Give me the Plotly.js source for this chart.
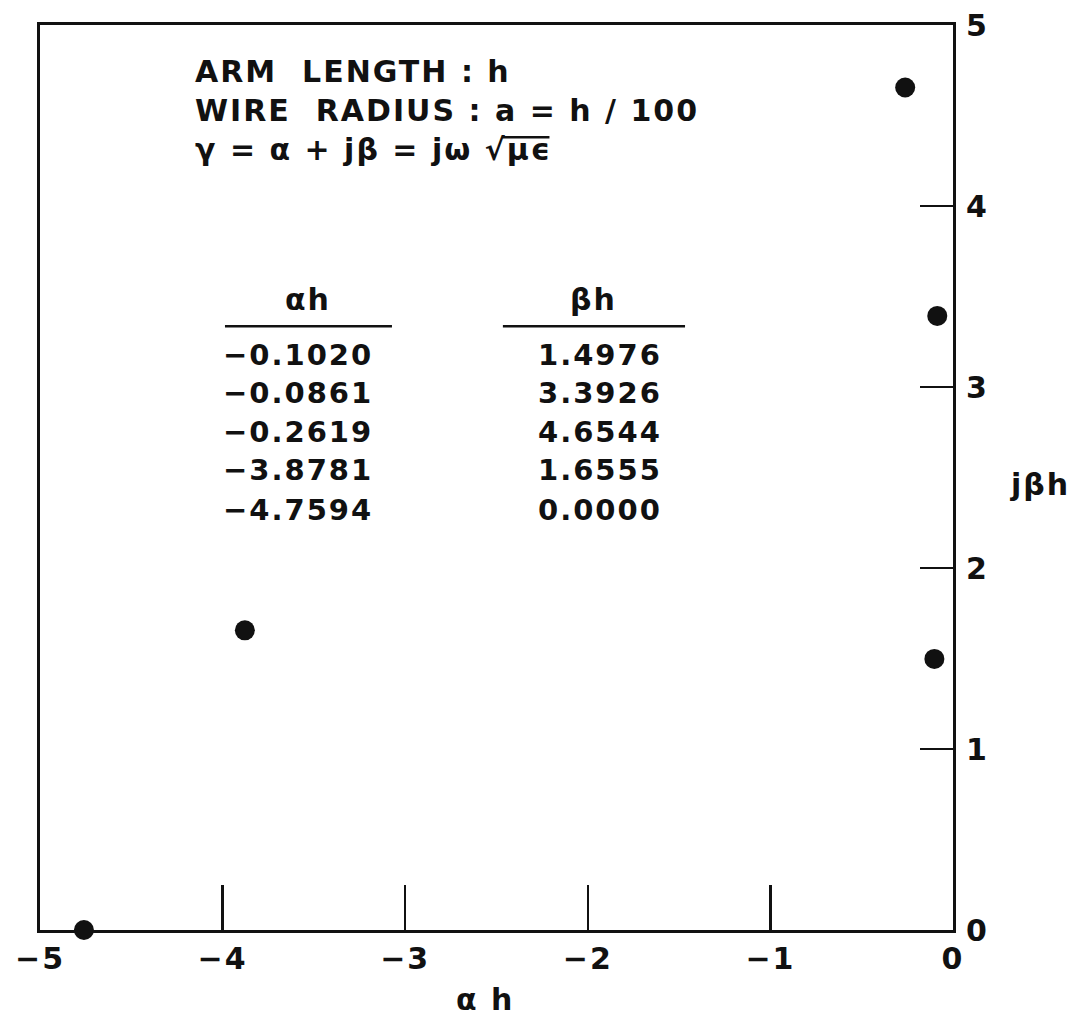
<!DOCTYPE html>
<html>
<head>
<meta charset="utf-8">
<script src="https://cdn.plot.ly/plotly-3.0.1.min.js"></script>
<style>
  html, body { margin: 0; padding: 0; background: #fff; }
  #chart { width: 1081px; height: 1021px; }
  #chart text { letter-spacing: 2px; }
</style>
</head>
<body>
<div id="chart"></div>
<script>
// Roots of the propagation constant, normalised to arm length h
const alphaH = [-0.1020, -0.0861, -0.2619, -3.8781, -4.7594];
const betaH = [1.4976, 3.3926, 4.6544, 1.6555, 0.0000];

const xTicks = [-5, -4, -3, -2, -1, 0];
const yTicks = [0, 1, 2, 3, 4, 5];

const noteLines = [
    'ARM  LENGTH : h',
    'WIRE  RADIUS : a = h / 100',
    'γ = α + jβ = jω √μϵ',
];

const INK = '#111';
const FONT = "'DejaVu Sans', 'Liberation Sans', sans-serif";

const fmt = v => (v < 0 ? '\u2212' : '') + Math.abs(v).toFixed(4);

const trace = {
    x: alphaH,
    y: betaH,
    type: 'scatter',
    mode: 'markers',
    marker: { color: INK, size: 20 },
    cliponaxis: false,
    hoverinfo: 'x+y',
};

const txt = size => ({ size: size, color: INK, weight: 'bold' });

const annotations = [];

// notes at the top of the plot, one block so the lines stay left aligned
annotations.push({
    text: noteLines.join('<br>'), xref: 'paper', yref: 'paper',
    x: 0.168, y: 0.906, xanchor: 'left', yanchor: 'middle', align: 'left',
    showarrow: false, font: txt(30),
});

// table of values
annotations.push({
    text: 'αh', xref: 'paper', yref: 'paper', x: 0.294, y: 0.697,
    xanchor: 'center', yanchor: 'middle', showarrow: false, font: txt(30),
});
annotations.push({
    text: 'βh', xref: 'paper', yref: 'paper', x: 0.606, y: 0.697,
    xanchor: 'center', yanchor: 'middle', showarrow: false, font: txt(30),
});
const rowY = [0.635, 0.593, 0.550, 0.508, 0.464];
alphaH.forEach((a, i) => {
    annotations.push({
        text: fmt(a), xref: 'paper', yref: 'paper', x: 0.206, y: rowY[i],
        xanchor: 'left', yanchor: 'middle', showarrow: false, font: txt(29),
    });
    annotations.push({
        text: fmt(betaH[i]), xref: 'paper', yref: 'paper', x: 0.613, y: rowY[i],
        xanchor: 'center', yanchor: 'middle', showarrow: false, font: txt(29),
    });
});

// axis titles
annotations.push({
    text: 'α h', xref: 'paper', yref: 'paper', x: 0.487, y: -0.077,
    xanchor: 'center', yanchor: 'middle', showarrow: false, font: txt(30),
});
annotations.push({
    text: 'jβh', xref: 'paper', yref: 'paper', x: 1.095, y: 0.492,
    xanchor: 'center', yanchor: 'middle', showarrow: false, font: txt(30),
});

const shapes = [
    // header underlines
    { type: 'line', xref: 'paper', yref: 'paper', x0: 0.2026, x1: 0.3855, y0: 0.667, y1: 0.667,
      line: { color: INK, width: 2.5 } },
    { type: 'line', xref: 'paper', yref: 'paper', x0: 0.507, x1: 0.7065, y0: 0.667, y1: 0.667,
      line: { color: INK, width: 2.5 } },
    // bar over the radicand
    { type: 'line', xref: 'paper', yref: 'paper', x0: 0.506, x1: 0.558, y0: 0.876, y1: 0.876,
      line: { color: INK, width: 2.5 } },
];

const layout = {
    width: 1081,
    height: 1021,
    paper_bgcolor: '#fff',
    plot_bgcolor: '#fff',
    font: { family: FONT, color: INK, size: 30 },
    margin: { l: 40, r: 128, t: 25, b: 91 },
    showlegend: false,
    xaxis: {
        range: [-5, 0],
        tickvals: xTicks,
        ticks: 'inside',
        ticklen: 45,
        tickwidth: 2.5,
        tickcolor: INK,
        showline: true,
        linewidth: 3,
        linecolor: INK,
        mirror: true,
        showgrid: false,
        zeroline: false,
        tickfont: txt(30),
    },
    yaxis: {
        range: [0, 5],
        side: 'right',
        tickvals: yTicks,
        ticks: 'inside',
        ticklen: 33,
        tickwidth: 2.5,
        tickcolor: INK,
        showline: true,
        linewidth: 3,
        linecolor: INK,
        mirror: true,
        showgrid: false,
        zeroline: false,
        tickfont: txt(30),
        ticklabelstandoff: 4,
    },
    annotations,
    shapes,
};

Plotly.newPlot('chart', [trace], layout, { displayModeBar: false, staticPlot: true });
</script>
</body>
</html>
